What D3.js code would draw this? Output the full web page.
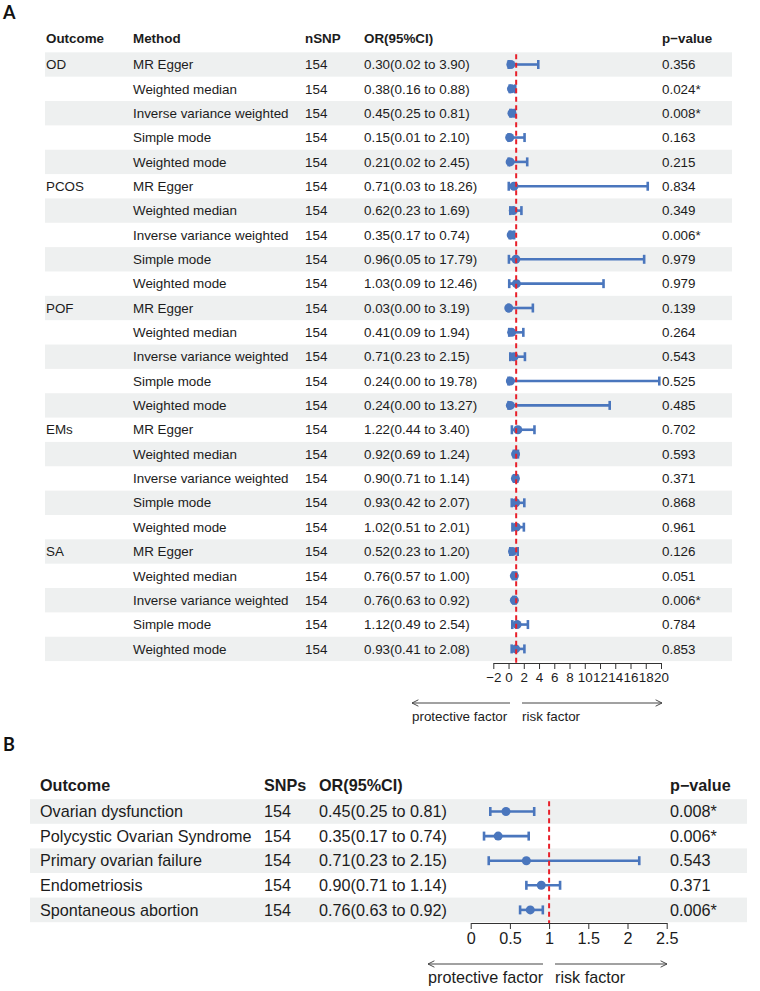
<!DOCTYPE html>
<html>
<head>
<meta charset="utf-8">
<script src="https://cdn.jsdelivr.net/npm/d3@7"></script>
<style>
  body { margin: 0; background: #fff; }
  svg { display: block; }
</style>
</head>
<body>
<div id="chart"></div>
<script>
// panel A data
var outcomesA = ['OD', 'PCOS', 'POF', 'EMs', 'SA'];
var methodsA = ['MR Egger', 'Weighted median', 'Inverse variance weighted', 'Simple mode', 'Weighted mode'];
var nsnpA = 154;
var orA = [0.30, 0.38, 0.45, 0.15, 0.21,  0.71, 0.62, 0.35, 0.96, 1.03,  0.03, 0.41, 0.71, 0.24, 0.24,
           1.22, 0.92, 0.90, 0.93, 1.02,  0.52, 0.76, 0.76, 1.12, 0.93];
var loA = [0.02, 0.16, 0.25, 0.01, 0.02,  0.03, 0.23, 0.17, 0.05, 0.09,  0.00, 0.09, 0.23, 0.00, 0.00,
           0.44, 0.69, 0.71, 0.42, 0.51,  0.23, 0.57, 0.63, 0.49, 0.41];
var hiA = [3.90, 0.88, 0.81, 2.10, 2.45,  18.26, 1.69, 0.74, 17.79, 12.46,  3.19, 1.94, 2.15, 19.78, 13.27,
           3.40, 1.24, 1.14, 2.07, 2.01,  1.20, 1.00, 0.92, 2.54, 2.08];
var pA = ['0.356', '0.024*', '0.008*', '0.163', '0.215',  '0.834', '0.349', '0.006*', '0.979', '0.979',
          '0.139', '0.264', '0.543', '0.525', '0.485',  '0.702', '0.593', '0.371', '0.868', '0.961',
          '0.126', '0.051', '0.006*', '0.784', '0.853'];
var ticksA = [-2, 0, 2, 4, 6, 8, 10, 12, 14, 16, 18, 20];

// panel B data
var outcomesB = ['Ovarian dysfunction', 'Polycystic Ovarian Syndrome', 'Primary ovarian failure', 'Endometriosis', 'Spontaneous abortion'];
var nsnpB = [154, 154, 154, 154, 154];
var orB = [0.45, 0.35, 0.71, 0.90, 0.76];
var loB = [0.25, 0.17, 0.23, 0.71, 0.63];
var hiB = [0.81, 0.74, 2.15, 1.14, 0.92];
var pB = ['0.008*', '0.006*', '0.543', '0.371', '0.006*'];
var ticksB = [0, 0.5, 1, 1.5, 2, 2.5];

var blue = '#4a76bd', red = '#e8202a', band = '#eef0f0', ink = '#1c1c1c';
var font = '"Liberation Sans", Arial, sans-serif';

var svg = d3.select('#chart').append('svg')
    .attr('width', 760)
    .attr('height', 991)
    .style('font-family', font);

var defs = svg.append('defs');
defs.append('marker')
    .attr('id', 'arr')
    .attr('viewBox', '0 0 10 10')
    .attr('refX', 9).attr('refY', 5)
    .attr('markerWidth', 8).attr('markerHeight', 8)
    .attr('markerUnits', 'userSpaceOnUse')
    .attr('orient', 'auto')
  .append('path')
    .attr('d', 'M1,1 L9,5 L1,9')
    .attr('fill', 'none')
    .attr('stroke', '#444')
    .attr('stroke-width', 1.2);

function fmt(v) { return v.toFixed(2); }

function forest(cfg) {
    var g = svg.append('g');
    var n = cfg.rows.length;
    var y = d3.scaleLinear().domain([0, n - 1]).range([cfg.y0, cfg.y0 + cfg.step * (n - 1)]);
    var x = d3.scaleLinear().domain(cfg.domain).range(cfg.range);

    // row bands
    g.selectAll('.band')
        .data(cfg.rows.filter(function(d, i) { return i % 2 == 0; }))
        .enter().append('rect')
        .attr('x', cfg.bandX[0])
        .attr('width', cfg.bandX[1] - cfg.bandX[0])
        .attr('y', function(d) { return y(d.i) - cfg.step / 2; })
        .attr('height', cfg.step)
        .attr('fill', band);

    // headers
    g.selectAll('.head')
        .data(cfg.cols)
        .enter().append('text')
        .attr('x', function(d) { return d.x; })
        .attr('y', cfg.headY)
        .attr('dy', '0.35em')
        .style('font-size', cfg.fs + 'px')
        .style('font-weight', 'bold')
        .attr('fill', ink)
        .text(function(d) { return d.name; });

    // cells
    cfg.cols.forEach(function(c) {
        g.selectAll(null)
            .data(cfg.rows)
            .enter().append('text')
            .attr('x', c.x)
            .attr('y', function(d) { return y(d.i); })
            .attr('dy', '0.35em')
            .style('font-size', cfg.fs + 'px')
            .attr('fill', ink)
            .text(function(d) { return c.val(d); });
    });

    // CI lines
    var ci = g.selectAll('.ci')
        .data(cfg.rows)
        .enter().append('g');
    ci.append('line')
        .attr('x1', function(d) { return x(d.lo); })
        .attr('x2', function(d) { return x(d.hi); })
        .attr('y1', function(d) { return y(d.i); })
        .attr('y2', function(d) { return y(d.i); })
        .attr('stroke', blue).attr('stroke-width', cfg.lw);
    ['lo', 'hi'].forEach(function(k) {
        ci.append('line')
            .attr('x1', function(d) { return x(d[k]); })
            .attr('x2', function(d) { return x(d[k]); })
            .attr('y1', function(d) { return y(d.i) - cfg.cap; })
            .attr('y2', function(d) { return y(d.i) + cfg.cap; })
            .attr('stroke', blue).attr('stroke-width', cfg.lw);
    });
    ci.append('circle')
        .attr('cx', function(d) { return x(d.or); })
        .attr('cy', function(d) { return y(d.i); })
        .attr('r', cfg.r)
        .attr('fill', blue);

    // reference line at OR = 1
    g.append('line')
        .attr('x1', x(1)).attr('x2', x(1))
        .attr('y1', cfg.y0 - cfg.step / 2 + 2)
        .attr('y2', cfg.axisY)
        .attr('stroke', red)
        .attr('stroke-width', 2)
        .attr('stroke-dasharray', '5,3.5');

    // axis
    var ax = g.append('g')
        .attr('transform', 'translate(0,' + cfg.axisY + ')')
        .call(d3.axisBottom(x).tickValues(cfg.ticks).tickSize(6).tickSizeOuter(0)
            .tickFormat(function(d) { return String(d).replace('-', '\u2212'); }));
    ax.select('.domain').attr('stroke', '#333');
    ax.selectAll('.tick line').attr('stroke', '#333');
    ax.selectAll('.tick text')
        .attr('fill', ink)
        .attr('y', 9)
        .style('font-family', font)
        .style('font-size', cfg.fs + 'px');

    // direction arrows
    g.append('line')
        .attr('x1', cfg.arrL[1]).attr('x2', cfg.arrL[0])
        .attr('y1', cfg.arrY).attr('y2', cfg.arrY)
        .attr('stroke', '#444').attr('stroke-width', 1)
        .attr('marker-end', 'url(#arr)');
    g.append('line')
        .attr('x1', cfg.arrR[0]).attr('x2', cfg.arrR[1])
        .attr('y1', cfg.arrY).attr('y2', cfg.arrY)
        .attr('stroke', '#444').attr('stroke-width', 1)
        .attr('marker-end', 'url(#arr)');
    g.append('text')
        .attr('x', cfg.arrL[0]).attr('y', cfg.arrY + cfg.labGap)
        .attr('dy', '0.35em')
        .style('font-size', cfg.fs + 'px').attr('fill', ink)
        .text('protective factor');
    g.append('text')
        .attr('x', cfg.arrR[0]).attr('y', cfg.arrY + cfg.labGap)
        .attr('dy', '0.35em')
        .style('font-size', cfg.fs + 'px').attr('fill', ink)
        .text('risk factor');
}

// panel A rows
var rowsA = orA.map(function(v, i) {
    return {
        i: i,
        outcome: i % 5 == 0 ? outcomesA[i / 5] : '',
        method: methodsA[i % 5],
        n: nsnpA,
        or: v, lo: loA[i], hi: hiA[i], p: pA[i]
    };
});

forest({
    rows: rowsA,
    y0: 64.5, step: 24.35, headY: 38, fs: 13.4,
    bandX: [45, 732],
    domain: [-2, 20], range: [493.3, 661], ticks: ticksA,
    axisY: 663, arrY: 703, labGap: 13.5,
    arrL: [412, 510], arrR: [522, 662],
    r: 4.5, cap: 4.5, lw: 2.6,
    cols: [
        {name: 'Outcome', x: 46, val: function(d) { return d.outcome; }},
        {name: 'Method', x: 133, val: function(d) { return d.method; }},
        {name: 'nSNP', x: 305, val: function(d) { return d.n; }},
        {name: 'OR(95%CI)', x: 364, val: function(d) { return fmt(d.or) + '(' + fmt(d.lo) + ' to ' + fmt(d.hi) + ')'; }},
        {name: 'p\u2212value', x: 662, val: function(d) { return d.p; }}
    ]
});

// panel B rows
var rowsB = orB.map(function(v, i) {
    return {i: i, outcome: outcomesB[i], n: nsnpB[i], or: v, lo: loB[i], hi: hiB[i], p: pB[i]};
});

forest({
    rows: rowsB,
    y0: 811.5, step: 24.6, headY: 785, fs: 16.2,
    bandX: [30, 747],
    domain: [0, 2.5], range: [470.7, 666.7], ticks: ticksB,
    axisY: 923, arrY: 964, labGap: 13.5,
    arrL: [428, 543], arrR: [555, 667],
    r: 4.5, cap: 4.5, lw: 2.6,
    cols: [
        {name: 'Outcome', x: 40, val: function(d) { return d.outcome; }},
        {name: 'SNPs', x: 264, val: function(d) { return d.n; }},
        {name: 'OR(95%CI)', x: 319, val: function(d) { return fmt(d.or) + '(' + fmt(d.lo) + ' to ' + fmt(d.hi) + ')'; }},
        {name: 'p\u2212value', x: 670, val: function(d) { return d.p; }}
    ]
});

// panel letters
svg.selectAll('.panel')
    .data([{t: 'A', y: 13}, {t: 'B', y: 745}])
    .enter().append('text')
    .attr('x', 3)
    .attr('y', function(d) { return d.y; })
    .attr('dy', '0.35em')
    .style('font-family', 'Lato, "Open Sans", sans-serif')
    .style('font-weight', 'bold')
    .style('font-size', '18px')
    .attr('fill', '#111')
    .text(function(d) { return d.t; });
</script>
</body>
</html>
